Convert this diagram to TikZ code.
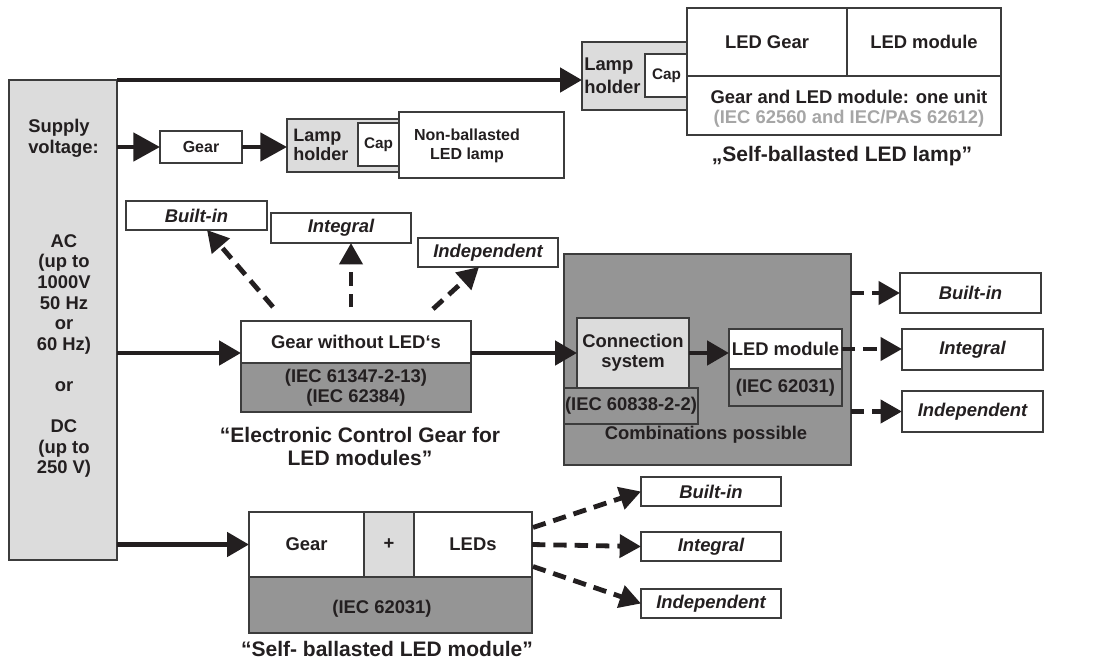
\documentclass[tikz,border=0pt]{standalone}
\usepackage{fontspec}
\setmainfont{Liberation Sans}
\usetikzlibrary{arrows.meta,calc}
\definecolor{ink}{HTML}{231F20}
\definecolor{bord}{HTML}{3C3C3C}
\definecolor{lightg}{HTML}{DCDCDC}
\definecolor{darkg}{HTML}{959595}
\definecolor{greytxt}{HTML}{A6A6A6}
\newcommand{\bx}[7]{\node[#6, minimum width={(#4-#2)*0.75pt}, minimum height={(#5-#3)*0.75pt}] (#1) at ({(#2+#4)/2},{(#3+#5)/2}) {#7};}
\tikzset{
  box/.style={draw=bord, line width=1pt, inner sep=0pt, outer sep=0pt},
  wbox/.style={box, fill=white},
  lbox/.style={box, fill=lightg},
  dbox/.style={box, fill=darkg},
  arr/.style={draw=ink, line width=3.6pt, -{Triangle[length=16.5pt,width=18pt]}},
  arrbig/.style={draw=ink, line width=3.6pt, -{Triangle[length=20pt,width=21pt]}},
  darr/.style={draw=ink, line width=3.6pt, dash pattern=on 10pt off 6pt, -{Triangle[length=16pt,width=17pt]}},
  capt/.style={font=\fontsize{15.75}{17.25}\selectfont\bfseries, align=center},
  it/.style={font=\fontsize{13.8}{15.5}\selectfont\bfseries\itshape},
}
\begin{document}
\begin{tikzpicture}[x=0.75pt,y=-0.75pt, font=\fontsize{13.8}{15.5}\selectfont\bfseries, text=ink, inner sep=0pt]
\useasboundingbox[fill=white] (0,0) rectangle (1116,661);

% supply
\bx{sup}{9}{80}{117}{560}{lbox}{}
\node[anchor=west, align=left] (sv) at (28,138) {Supply\\voltage:};
\node[align=center, font=\fontsize{13.8}{15.45}\selectfont\bfseries] (ac) at (64,356)
  {AC\\(up to\\1000V\\50 Hz\\or\\60 Hz)\\[15.45pt]or\\[15.45pt]DC\\(up to\\250 V)};

% top: self-ballasted lamp
\bx{lh1}{582}{42}{687}{110}{lbox}{}
\node[anchor=west, align=left, font=\fontsize{13.8}{17.25}\selectfont\bfseries] (lh1t) at (584,76) {Lamp\\holder};
\bx{cap1}{645}{54}{688}{97}{wbox}{\fontsize{11.5}{13}\selectfont Cap}
\bx{ledg}{687}{8}{847}{76}{wbox}{LED Gear}
\bx{ledm}{847}{8}{1001}{76}{wbox}{LED module}
\bx{unit}{687}{76}{1001}{135}{wbox}{}
\node (unitt) at (849,97) {Gear and LED module: one unit};
\node[text=greytxt] (unitn) at (849,119) {(IEC 62560 and IEC/PAS 62612)};
\node[capt] (c1) at (842,156) {„Self-ballasted LED lamp”};

% row 2: non-ballasted lamp
\bx{g2}{160}{131}{242}{163}{wbox}{\fontsize{12}{14}\selectfont Gear}
\bx{lh2}{287}{119}{399}{172}{lbox}{}
\node[anchor=west, align=left, font=\fontsize{13.5}{14.25}\selectfont\bfseries] (lh2t) at (293,145) {Lamp\\holder};
\bx{cap2}{358}{123}{399}{166}{wbox}{\fontsize{11.5}{13}\selectfont Cap}
\bx{nb}{399}{112}{564}{178}{wbox}{}
\node[align=center, font=\fontsize{12}{14.25}\selectfont\bfseries] (nbt) at (467,146) {Non-ballasted\\LED lamp};

\draw[arr] (sup.north east) -- (sup.north east -| lh1.west);
\draw[arrbig] (sup.east |- g2.west) -- (g2.west);
\draw[arrbig] (g2.east) -- (g2.east -| lh2.west);

% middle: electronic control gear
\bx{bi}{126}{201}{267}{230}{wbox,it}{Built-in}
\bx{ig}{271}{213}{411}{243}{wbox,it}{Integral}
\bx{ind}{418}{238}{558}{267}{wbox,it}{Independent}
\bx{gwt}{241}{321}{471}{363}{wbox}{Gear without LED‘s}
\bx{gwb}{241}{363}{471}{412}{dbox, align=center, font=\fontsize{13.8}{15}\selectfont\bfseries}{(IEC 61347-2-13)\\(IEC 62384)}
\node[capt] (c2) at (360,446) {“Electronic Control Gear for\\LED modules”};

\draw[darr] ($(gwt.north west)+(32,-14)$) -- ($(bi.south west)+(81,0)$);
\draw[darr] ($(gwt.north west)+(110,-14)$) -- ($(ig.south west)+(80,0)$);
\draw[darr] ($(gwt.north west)+(192,-12)$) -- ($(ind.south west)+(61,0)$);

\draw[arr] ($(sup.east |- gwt.west)+(0,11)$) -- ($(gwt.west)+(0,11)$);

% combinations box
\bx{big}{564}{254}{851}{465}{dbox}{}
\bx{iec1}{564}{388}{698}{424}{dbox}{(IEC 60838-2-2)}
\bx{conn}{577}{318}{689}{388}{lbox, align=center, font=\fontsize{13.8}{15}\selectfont\bfseries}{Connection\\system}
\bx{lm}{729}{329}{842}{369}{wbox}{LED module}
\bx{iec2}{729}{369}{842}{406}{dbox}{(IEC 62031)}
\node (comb) at (706,435) {Combinations possible};

\draw[arr] (gwt.east |- conn.west) -- (conn.west);
\draw[arr] (conn.east) -- (conn.east -| lm.west);

\bx{rb}{900}{273}{1041}{313}{wbox,it}{Built-in}
\bx{ri}{902}{329}{1043}{370}{wbox,it}{Integral}
\bx{rn}{902}{391}{1043}{432}{wbox,it}{Independent}

\draw[darr] (big.east |- rb.west) -- (rb.west);
\draw[darr] (lm.east) -- (lm.east -| ri.west);
\draw[darr] (big.east |- rn.west) -- (rn.west);

% bottom: self-ballasted LED module
\bx{sg}{249}{512}{364}{577}{wbox}{Gear}
\bx{sp}{364}{512}{414}{577}{lbox}{+}
\bx{sl}{414}{512}{532}{577}{wbox}{LEDs}
\bx{sb}{249}{577}{532}{633}{dbox}{}
\node (sbt) at (382,609) {(IEC 62031)};
\node[capt] (c3) at (387,649) {“Self- ballasted LED module”};

\bx{bb}{641}{477}{781}{506}{wbox,it}{Built-in}
\bx{bi2}{641}{532}{781}{561}{wbox,it}{Integral}
\bx{bn}{641}{589}{781}{618}{wbox,it}{Independent}

\draw[arr] (sup.east |- sg.west) -- (sg.west);
\draw[darr] ($(sl.east)+(1,-17)$) -- (bb.west);
\draw[darr] (sl.east) -- (bi2.west);
\draw[darr] ($(sl.east)+(1,22)$) -- (bn.west);
\end{tikzpicture}
\end{document}
